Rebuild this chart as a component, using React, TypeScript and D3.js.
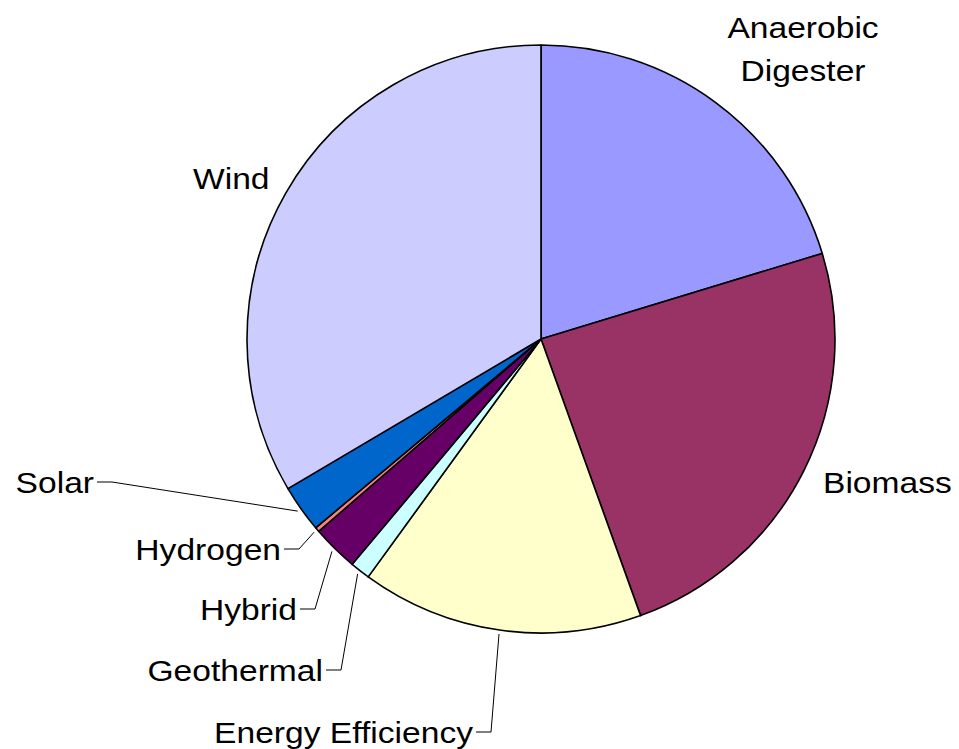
import React from 'react';
import * as d3 from 'd3';

// share of funding by technology (percent)
const categories = ['Anaerobic Digester', 'Biomass', 'Energy Efficiency', 'Geothermal', 'Hybrid', 'Hydrogen', 'Solar', 'Wind'];
const shares = [20.3, 24.2, 15.5, 1.1, 2.55, 0.25, 2.6, 33.5];
const colors = ['#9999FF', '#993366', '#FFFFCC', '#CCFFFF', '#660066', '#FF8080', '#0066CC', '#CCCCFF'];

// label placement (layout only)
const labelPos: Record<string, { x: number; y: number; anchor: string; leader: boolean; lines?: string[] }> = {
  'Anaerobic Digester': { x: 803, y: 38, anchor: 'middle', leader: false, lines: ['Anaerobic', 'Digester'] },
  Biomass: { x: 823, y: 493, anchor: 'start', leader: false },
  Wind: { x: 193, y: 189, anchor: 'start', leader: false },
  Solar: { x: 94, y: 493, anchor: 'end', leader: true },
  Hydrogen: { x: 281, y: 560, anchor: 'end', leader: true },
  Hybrid: { x: 297, y: 620, anchor: 'end', leader: true },
  Geothermal: { x: 323, y: 681, anchor: 'end', leader: true },
  'Energy Efficiency': { x: 473, y: 743, anchor: 'end', leader: true },
};

const W = 959;
const H = 749;
const cx = 541;
const cy = 339;
const r = 294;

export default function App() {
  const data = categories.map((c, i) => ({ name: c, value: shares[i], color: colors[i] }));
  const pie = d3.pie<any>().value((d) => d.value).sort(null);
  const arcs = pie(data);
  const arc = d3.arc<any>().innerRadius(0).outerRadius(r);
  const edge = d3.arc<any>().innerRadius(r + 4).outerRadius(r + 4);

  const font = '"Liberation Sans", Arial, sans-serif';
  const fs = 30;
  const sx = 1.12;

  return (
    <svg width={W} height={H} style={{ position: 'absolute', left: 0, top: 0, background: '#fff' }}>
      <g transform={`translate(${cx},${cy})`}>
        {arcs.map((a, i) => (
          <path key={i} d={arc(a) as string} fill={a.data.color} stroke="#000" strokeWidth={1.6} strokeLinejoin="round" />
        ))}
      </g>
      {arcs.map((a, i) => {
        const p = labelPos[a.data.name];
        const leaderEls = [];
        if (p.leader) {
          const [ex, ey] = edge.centroid(a);
          const ly = p.y - 11;
          leaderEls.push(
            <polyline
              key="l"
              points={`${p.x + 3},${ly} ${p.x + 18},${ly} ${cx + ex},${cy + ey}`}
              fill="none"
              stroke="#000"
              strokeWidth={1}
            />
          );
        }
        const lines = p.lines || [a.data.name];
        return (
          <g key={i}>
            {leaderEls}
            {lines.map((t, j) => (
              <text
                key={j}
                transform={`translate(${p.x},${p.y + j * 43}) scale(${sx},1)`}
                textAnchor={p.anchor as any}
                fontFamily={font}
                fontSize={fs}
                fill="#000"
              >
                {t}
              </text>
            ))}
          </g>
        );
      })}
    </svg>
  );
}
